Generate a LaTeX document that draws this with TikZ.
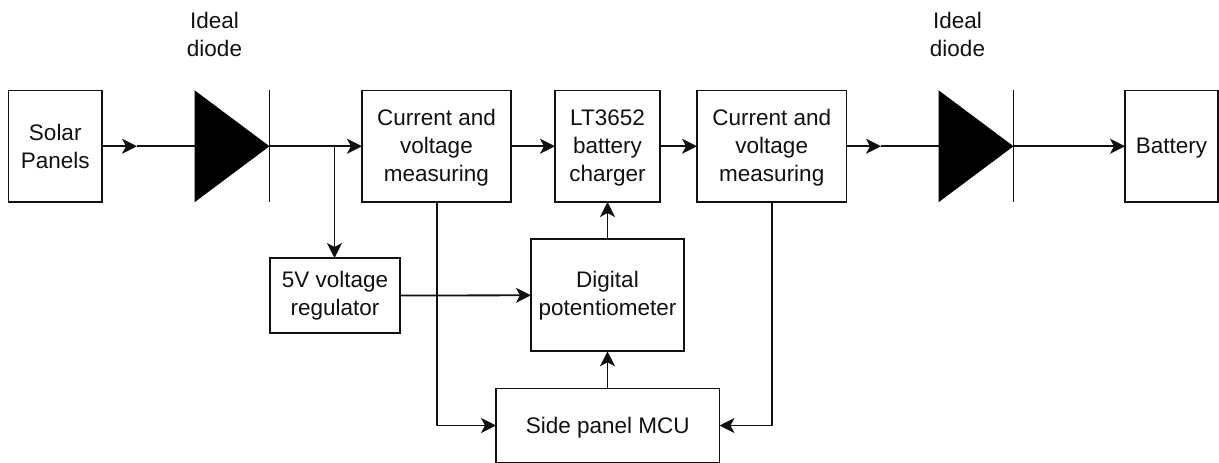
\documentclass[tikz,border=0pt]{standalone}
\usepackage{fontspec}
\setmainfont{Liberation Sans}
\usetikzlibrary{arrows.meta}
\definecolor{inkc}{HTML}{111111}
\tikzset{
  x=1pt,y=-1pt,
  blockbox/.style={draw=inkc,line width=1.8pt,fill=white,outer sep=0pt,inner sep=0pt,align=center,text=inkc,
    font=\fontsize{22.5}{28}\selectfont},
  lbl/.style={align=center,text=inkc,inner sep=0pt,font=\fontsize{22.5}{28}\selectfont},
  diodebox/.style={draw=none,outer sep=0pt,inner sep=0pt,minimum width=75pt,minimum height=112pt,
    path picture={\fill[black] (path picture bounding box.north west) -- (path picture bounding box.east) -- (path picture bounding box.south west) -- cycle;}},
  wire/.style={draw=inkc,line width=1.8pt},
  arrowwire/.style={wire,-{Stealth[length=15pt,width=15pt,inset=4pt]}},
}
\newcommand{\dn}[1]{\vbox{\kern4pt\hbox{\begin{tabular}{@{}c@{}}#1\end{tabular}}}}
\begin{document}
\begin{tikzpicture}
\useasboundingbox (0,0) rectangle (1219,463);
\fill[white] (0,0) rectangle (1219,463);
\node[blockbox,minimum width=93.5pt,minimum height=111.5pt] (solar) at (55.25,146.25) {Solar\\Panels};
\node[diodebox] (d1) at (232,146.25) {};
\node[lbl] (d1l) at (214.5,34.5) {Ideal\\diode};
\node[blockbox,minimum width=149pt,minimum height=111.5pt] (cv1) at (436.5,146.25) {\dn{Current and\\voltage\\measuring}};
\node[blockbox,minimum width=105pt,minimum height=111.5pt] (lt) at (607.5,146.25) {\dn{LT3652\\battery\\charger}};
\node[blockbox,minimum width=149.5pt,minimum height=111.5pt] (cv2) at (771.75,146.25) {\dn{Current and\\voltage\\measuring}};
\node[diodebox] (d2) at (976,146.25) {};
\node[lbl] (d2l) at (957.5,34.5) {Ideal\\diode};
\node[blockbox,minimum width=93pt,minimum height=111.5pt] (bat) at (1171.5,146.25) {\dn{Battery}};
\node[blockbox,minimum width=130pt,minimum height=75pt] (reg) at (335,295.5) {5V voltage\\regulator};
\node[blockbox,minimum width=153pt,minimum height=112pt] (pot) at (607.5,295.3) {Digital\\potentiometer};
\node[blockbox,minimum width=223.5pt,minimum height=74pt] (mcu) at (607.75,425.5) {\dn{Side panel MCU}};

\draw[wire] (d1.north east) -- (d1.south east);
\draw[wire] (d2.north east) -- (d2.south east);

\coordinate (m1) at (137,146.25);
\coordinate (m2) at (881,146.25);
\coordinate (j1) at (334.5,146.25);
\coordinate (t1) at (436.7,425.5);
\coordinate (t2) at (771.7,425.5);

\draw[arrowwire] (solar.east) -- (m1);
\draw[wire] (m1) -- (d1.west);
\draw[arrowwire] (d1.east) -- (cv1.west);
\draw[arrowwire] (j1) -- (reg.north -| j1);
\draw[arrowwire] (cv1.east) -- (lt.west);
\draw[arrowwire] (lt.east) -- (cv2.west);
\draw[arrowwire] (cv2.east) -- (m2);
\draw[wire] (m2) -- (d2.west);
\draw[arrowwire] (d2.east) -- (bat.west);
\draw[arrowwire] (reg.east) -- (pot.west);
\draw[arrowwire] (pot.north) -- (lt.south);
\draw[arrowwire] (mcu.north -| pot.south) -- (pot.south);
\draw[arrowwire,line join=round] (t1 |- cv1.south) -- (t1) -- (mcu.west);
\draw[arrowwire,line join=round] (t2 |- cv2.south) -- (t2) -- (mcu.east);
\end{tikzpicture}
\end{document}
